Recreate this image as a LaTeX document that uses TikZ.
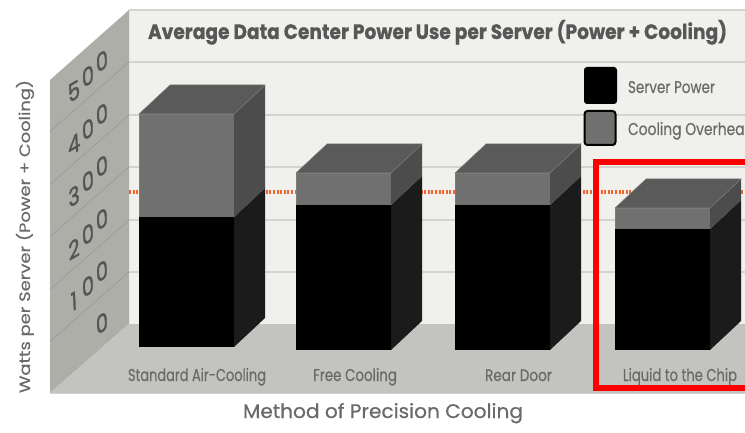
\documentclass[tikz,border=0pt]{standalone}
\usepackage{fontspec}
\setmainfont{Poppins}
\newfontfamily\labelfont[FakeBold=0.5]{Poppins}
\newfontfamily\numfont[FakeBold=1.4, FakeSlant=0.5]{Poppins}
\newfontfamily\titlefont[BoldFeatures={FakeBold=0.8}]{Poppins}
\usepackage{graphicx}
\definecolor{wallback}{HTML}{F0F1EC}
\definecolor{wallside}{HTML}{ADAEA8}
\definecolor{floorc}{HTML}{C3C4BF}
\definecolor{gridc}{HTML}{D3D4CF}
\definecolor{sidegrid}{HTML}{9C9D98}
\definecolor{labelc}{HTML}{6A6A6A}
\definecolor{numc}{HTML}{555555}
\definecolor{titlec}{HTML}{575757}
\definecolor{frontgray}{HTML}{707070}
\definecolor{topgray}{HTML}{5A5A5A}
\definecolor{sidegray}{HTML}{4C4C4C}
\definecolor{sideblack}{HTML}{1B1B1B}
\definecolor{edgec}{HTML}{7C7C7C}
\definecolor{orangec}{HTML}{F0642A}
\definecolor{redc}{HTML}{FF0000}
\newcommand\fitbox[3]{\resizebox{#1pt}{#2pt}{#3}}
\newcommand\drawcolumn[5]{%
  % #1 left x, #2 width, #3 gray top, #4 black top, #5 bottom
  \fill[black] (#1,#4) rectangle (#1+#2,#5);
  \fill[frontgray] (#1,#3) rectangle (#1+#2,#4);
  \fill[sideblack] (#1+#2,#4) -- (#1+#2+31,#4-29) -- (#1+#2+31,#5-29) -- (#1+#2,#5) -- cycle;
  \fill[sidegray] (#1+#2,#3) -- (#1+#2+31,#3-29) -- (#1+#2+31,#4-29) -- (#1+#2,#4) -- cycle;
  \filldraw[fill=topgray, draw=edgec, line width=0.5] (#1,#3) -- (#1+31,#3-29) -- (#1+#2+31,#3-29) -- (#1+#2,#3) -- cycle;
  \draw[edgec, line width=0.5] (#1,#4) -- (#1,#3) -- (#1+#2,#3);
}
% one digit of a side-wall number: name, grid y, index from right, digit
\newcommand\sidedigit[4]{%
  \node[sidedig] (#1) at ({102.5-14*#3},{#2+8+15*#3}) {#4};}
\tikzset{
  txt/.style={inner sep=0pt, outer sep=0pt},
  barlabel/.style={txt, anchor=base west, text=labelc, font=\labelfont},
  gridline/.style={gridc, line width=1.6},
  sidegridline/.style={sidegrid, line width=0.8},
  sidedig/.style={txt, anchor=base, text=numc, rotate=30, font=\numfont\fontsize{22}{22}\selectfont},
}
\begin{document}
\begin{tikzpicture}[x=1pt,y=-1pt]
\useasboundingbox (0,0) rectangle (745,433);
\clip (0,0) rectangle (745,433);
\fill[white] (0,0) rectangle (745,433);
% back wall
\fill[wallback] (129,10) rectangle (745,324);
\draw[gridc, line width=1.5] (129,10) -- (745,10);
% side wall
\fill[wallside] (50,80) -- (129,10) -- (129,324) -- (50,393) -- cycle;
% floor
\fill[floorc] (129,324) -- (745,324) -- (745,393) -- (50,393) -- cycle;
\draw[gridc, line width=1.2] (50,393.5) -- (745,393.5);
% grid lines
\foreach \g in {62,115,167,220,272} {
  \draw[gridline] (129,\g) -- (745,\g);
  \draw[sidegridline] (129,\g) -- (50,\g+69.5);
}
% side wall numbers, digit by digit along the slanted wall
\sidedigit{n5a}{62}{2}{5}\sidedigit{n5b}{62}{1}{0}\sidedigit{n5c}{62}{0}{0}
\sidedigit{n4a}{115}{2}{4}\sidedigit{n4b}{115}{1}{0}\sidedigit{n4c}{115}{0}{0}
\sidedigit{n3a}{167}{2}{3}\sidedigit{n3b}{167}{1}{0}\sidedigit{n3c}{167}{0}{0}
\sidedigit{n2a}{220}{2}{2}\sidedigit{n2b}{220}{1}{0}\sidedigit{n2c}{220}{0}{0}
\sidedigit{n1a}{272}{2}{1}\sidedigit{n1b}{272}{1}{0}\sidedigit{n1c}{272}{0}{0}
\sidedigit{n0c}{324}{0}{0}
% orange reference line
\draw[orangec, line width=3.5, dash pattern=on 2pt off 1.6pt] (129,192) -- (745,192);
% columns
\drawcolumn{139}{95}{114}{217}{347}
\drawcolumn{296}{95}{173}{205}{350}
\drawcolumn{455}{95}{173}{205}{350}
\drawcolumn{615}{95}{208}{229}{350}
% title
\node[txt, anchor=base west, text=titlec] (title) at (148,39)
  {\fitbox{579}{19}{\titlefont\bfseries Average Data Center Power Use per Server (Power + Cooling)}};
% legend
\fill[black, rounded corners=3] (584,67) rectangle (617,104);
\draw[fill=frontgray, draw=black, line width=2, rounded corners=3] (584.5,111) rectangle (615.5,145);
\node[barlabel] (lg1) at (628,93) {\fitbox{87}{12}{Server Power}};
\node[barlabel] (lg2) at (628,135) {\fitbox{126}{13}{Cooling Overhead}};
% category labels
\node[barlabel] (c1) at (128,381) {\fitbox{138}{13}{Standard Air-Cooling}};
\node[barlabel] (c2) at (313,381) {\fitbox{84}{13}{Free Cooling}};
\node[barlabel] (c3) at (485,381) {\fitbox{67}{11.5}{Rear Door}};
\node[barlabel] (c4) at (623,381) {\fitbox{114}{13}{Liquid to the Chip}};
% axis titles
\node[barlabel] (xt) at (243,418) {\fitbox{280}{15}{Method of Precision Cooling}};
\node[txt, anchor=base, rotate=90, text=labelc, font=\labelfont] (yt) at (30,236.5)
  {\fitbox{313}{14}{Watts per Server (Power + Cooling)}};
% highlight
\draw[redc, line width=6] (596,162) rectangle (770,388);
\end{tikzpicture}
\end{document}
